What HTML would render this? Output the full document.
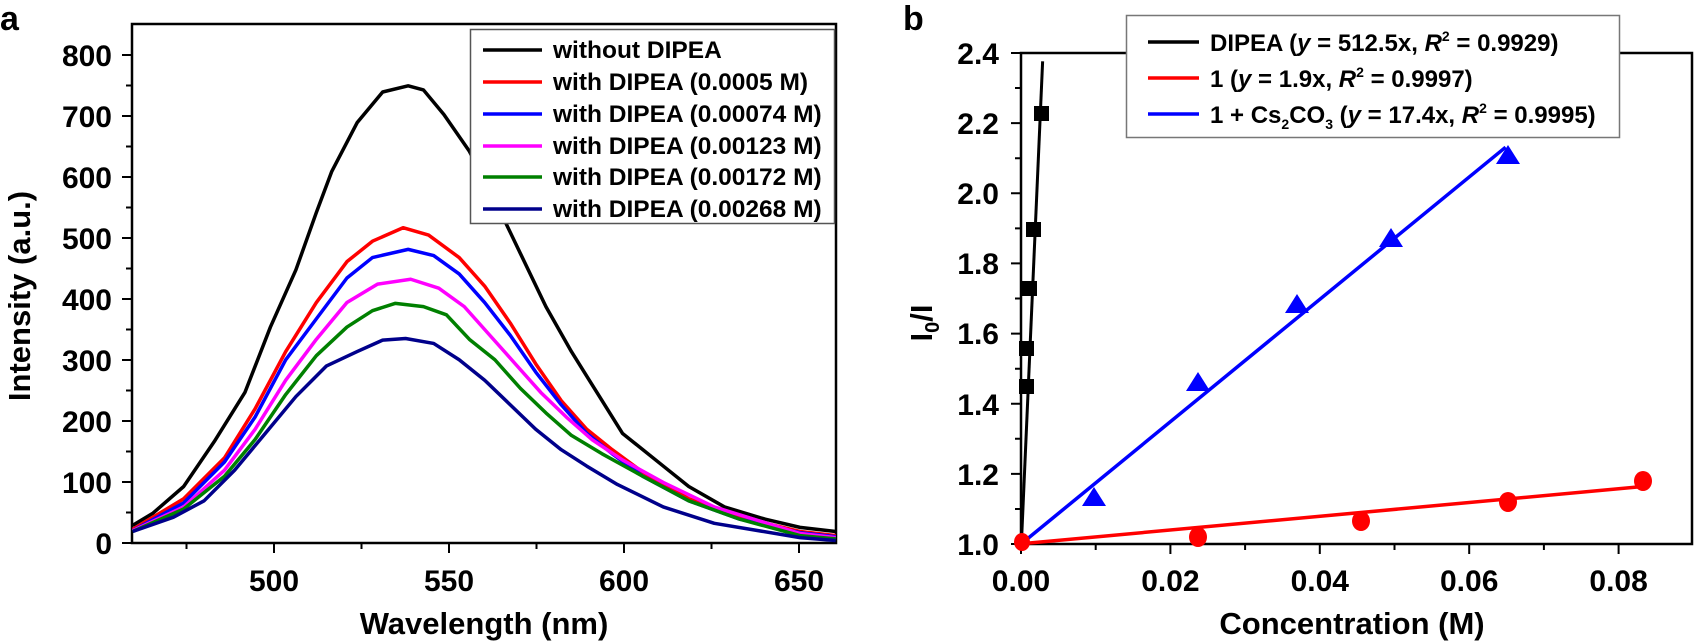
<!DOCTYPE html>
<html><head><meta charset="utf-8"><style>
body{margin:0;background:#fff}
svg{display:block;font-family:"Liberation Sans",Arial,sans-serif;font-weight:bold}
</style></head><body>
<svg width="1694" height="641" viewBox="0 0 1694 641" xmlns="http://www.w3.org/2000/svg">
<!-- Panel a -->
<text x="0" y="30" font-size="34">a</text>
<g stroke="#000" stroke-width="2.5" fill="none">
<path d="M132,24 H836 V543 H132 Z"/>
</g>
<g stroke="#000" stroke-width="2">
<path d="M122,543H132M122,482H132M122,421H132M122,360H132M122,299H132M122,238H132M122,177H132M122,116H132M122,55H132"/>
<path d="M126,512.5H132M126,451.5H132M126,390.5H132M126,329.5H132M126,268.5H132M126,207.5H132M126,146.5H132M126,85.5H132"/>
<path d="M274,543V553M449,543V553M624,543V553M799,543V553"/>
<path d="M186.5,543V549M361.5,543V549M536.5,543V549M711.5,543V549"/>
</g>
<g font-size="30" text-anchor="end">
<text x="112" y="554">0</text><text x="112" y="493">100</text><text x="112" y="432">200</text><text x="112" y="371">300</text><text x="112" y="310">400</text><text x="112" y="249">500</text><text x="112" y="188">600</text><text x="112" y="127">700</text><text x="112" y="66">800</text>
</g>
<g font-size="30" text-anchor="middle">
<text x="274" y="591">500</text><text x="449" y="591">550</text><text x="624" y="591">600</text><text x="799" y="591">650</text>
<text x="484" y="634" font-size="31">Wavelength (nm)</text>
<text transform="translate(30,296) rotate(-90)" font-size="31">Intensity (a.u.)</text>
</g>
<g fill="none" stroke-width="3.5" stroke-linejoin="round">
<g transform="scale(0.5102,0.40883)">
<polyline stroke="#000" points="260,1285 300,1255 360,1190 420,1080 480,960 530,800 580,660 620,520 650,420 700,300 750,225 800,210 830,220 870,280 920,370 970,490 1020,620 1070,750 1120,860 1170,960 1220,1060 1300,1140 1350,1190 1420,1240 1500,1270 1568,1290 1638,1300" vector-effect="non-scaling-stroke"/>
<polyline stroke="#f00" points="260,1295 360,1220 440,1120 500,1000 560,860 620,740 680,640 730,590 790,557 840,575 900,630 950,700 1000,790 1050,890 1100,980 1150,1050 1200,1100 1260,1155 1350,1220 1450,1265 1568,1300 1638,1310" vector-effect="non-scaling-stroke"/>
<polyline stroke="#00f" points="260,1298 360,1230 440,1130 500,1020 560,880 620,780 680,680 730,630 800,610 850,625 900,670 950,740 1000,820 1050,910 1100,990 1150,1060 1200,1110 1260,1165 1350,1225 1450,1270 1568,1303 1638,1313" vector-effect="non-scaling-stroke"/>
<polyline stroke="#f0f" points="260,1298 360,1240 440,1150 500,1050 560,930 620,830 680,740 740,695 805,683 860,705 910,750 960,820 1010,890 1060,960 1110,1020 1160,1075 1220,1125 1300,1180 1400,1240 1568,1305 1638,1315" vector-effect="non-scaling-stroke"/>
<polyline stroke="#008000" points="260,1300 360,1245 440,1165 500,1075 560,965 620,870 680,800 730,760 775,742 830,750 875,770 920,830 970,880 1020,950 1070,1010 1120,1065 1180,1110 1260,1165 1350,1225 1450,1270 1568,1310 1638,1318" vector-effect="non-scaling-stroke"/>
<polyline stroke="#00008b" points="260,1300 340,1265 400,1225 460,1150 520,1060 580,970 640,895 700,860 750,832 795,828 850,840 900,880 950,930 1000,990 1050,1050 1100,1100 1150,1140 1210,1185 1300,1240 1400,1280 1568,1315 1638,1322" vector-effect="non-scaling-stroke"/>
</g>
</g>
<!-- legend a -->
<rect x="470.5" y="29.5" width="364" height="194" fill="#fff" stroke="#555" stroke-width="1.5"/>
<g stroke-width="3.5">
<line x1="483" y1="50" x2="542" y2="50" stroke="#000"/>
<line x1="483" y1="82" x2="542" y2="82" stroke="#f00"/>
<line x1="483" y1="114" x2="542" y2="114" stroke="#00f"/>
<line x1="483" y1="146" x2="542" y2="146" stroke="#f0f"/>
<line x1="483" y1="177" x2="542" y2="177" stroke="#008000"/>
<line x1="483" y1="209" x2="542" y2="209" stroke="#00008b"/>
</g>
<g font-size="24.5">
<text x="553" y="58">without DIPEA</text>
<text x="553" y="90">with DIPEA (0.0005 M)</text>
<text x="553" y="122">with DIPEA (0.00074 M)</text>
<text x="553" y="154">with DIPEA (0.00123 M)</text>
<text x="553" y="185">with DIPEA (0.00172 M)</text>
<text x="553" y="217">with DIPEA (0.00268 M)</text>
</g>

<!-- Panel b -->
<text x="903" y="30" font-size="34">b</text>
<path d="M1021,53 H1692 V544 H1021 Z" fill="none" stroke="#000" stroke-width="2.5"/>
<g stroke="#000" stroke-width="2">
<path d="M1011,544H1021M1011,473.9H1021M1011,403.7H1021M1011,333.6H1021M1011,263.4H1021M1011,193.3H1021M1011,123.1H1021M1011,53H1021"/>
<path d="M1015,509H1021M1015,438.8H1021M1015,368.7H1021M1015,298.5H1021M1015,228.4H1021M1015,158.2H1021M1015,88H1021"/>
<path d="M1021,544V554M1170.4,544V554M1319.8,544V554M1469.2,544V554M1618.6,544V554"/>
<path d="M1095.7,544V550M1245.1,544V550M1394.5,544V550M1543.9,544V550"/>
</g>
<g font-size="30" text-anchor="end">
<text x="999" y="555">1.0</text><text x="999" y="485">1.2</text><text x="999" y="415">1.4</text><text x="999" y="344">1.6</text><text x="999" y="274">1.8</text><text x="999" y="204">2.0</text><text x="999" y="134">2.2</text><text x="999" y="64">2.4</text>
</g>
<g font-size="30" text-anchor="middle">
<text x="1021" y="591">0.00</text><text x="1170.4" y="591">0.02</text><text x="1319.8" y="591">0.04</text><text x="1469.2" y="591">0.06</text><text x="1618.6" y="591">0.08</text>
<text x="1352" y="634" font-size="31">Concentration (M)</text>
<text transform="translate(932,323) rotate(-90)" font-size="31">I<tspan font-size="20" dy="7">0</tspan><tspan dy="-7">/I</tspan></text>
</g>
<g transform="translate(840,0) scale(0.5447,0.40883)">
<line x1="333" y1="1330" x2="372" y2="150" stroke="#000" stroke-width="3" vector-effect="non-scaling-stroke"/>
<line x1="333" y1="1330" x2="1222" y2="360" stroke="#00f" stroke-width="3.5" vector-effect="non-scaling-stroke"/>
<line x1="333" y1="1330" x2="1474" y2="1190" stroke="#f00" stroke-width="3.5" vector-effect="non-scaling-stroke"/>
</g>
<g fill="#000">
<rect x="1019" y="379" width="15" height="15"/>
<rect x="1019" y="341" width="15" height="15"/>
<rect x="1022" y="281" width="15" height="15"/>
<rect x="1026" y="222" width="15" height="15"/>
<rect x="1034" y="106" width="15" height="15"/>
</g>
<g fill="#00f">
<polygon points="1094,487 1082,506 1106,506"/>
<polygon points="1198,372 1186,391 1210,391"/>
<polygon points="1297,294 1285,313 1309,313"/>
<polygon points="1391,228 1379,247 1403,247"/>
<polygon points="1508,145 1496,164 1520,164"/>
</g>
<g fill="#f00">
<ellipse cx="1022" cy="542" rx="8" ry="9"/>
<ellipse cx="1198" cy="537" rx="9" ry="10"/>
<ellipse cx="1361" cy="521" rx="9" ry="10"/>
<ellipse cx="1508" cy="502" rx="9" ry="10"/>
<ellipse cx="1643" cy="481" rx="9" ry="10"/>
</g>
<!-- legend b -->
<rect x="1126.5" y="15.5" width="493" height="122" fill="#fff" stroke="#777" stroke-width="1.5"/>
<g stroke-width="3.5">
<line x1="1148" y1="42" x2="1199" y2="42" stroke="#000"/>
<line x1="1148" y1="78" x2="1199" y2="78" stroke="#f00"/>
<line x1="1148" y1="114" x2="1199" y2="114" stroke="#00f"/>
</g>
<g font-size="24">
<text x="1210" y="51">DIPEA (<tspan font-style="italic">y</tspan> = 512.5x, <tspan font-style="italic">R</tspan><tspan font-size="14" dy="-10">2</tspan><tspan dy="10"> = 0.9929)</tspan></text>
<text x="1210" y="87">1 (<tspan font-style="italic">y</tspan> = 1.9x, <tspan font-style="italic">R</tspan><tspan font-size="14" dy="-10">2</tspan><tspan dy="10"> = 0.9997)</tspan></text>
<text x="1210" y="123">1 + Cs<tspan font-size="14" dy="6">2</tspan><tspan dy="-6">CO</tspan><tspan font-size="14" dy="6">3</tspan><tspan dy="-6"> (</tspan><tspan font-style="italic">y</tspan> = 17.4x, <tspan font-style="italic">R</tspan><tspan font-size="14" dy="-10">2</tspan><tspan dy="10"> = 0.9995)</tspan></text>
</g>
</svg>
</body></html>
